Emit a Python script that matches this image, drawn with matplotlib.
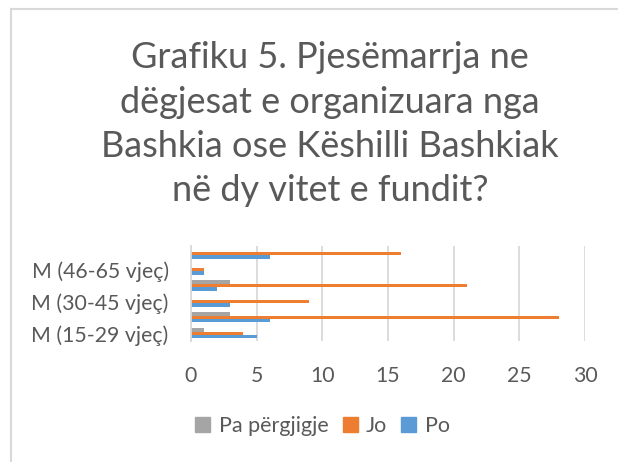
import numpy as np
import matplotlib.pyplot as plt
from matplotlib.lines import Line2D
from matplotlib.patches import Patch

# categories from bottom to top; only every other label fits on the axis
categories = ["M (15-29 vjeç)", "F (15-29 vjeç)", "M (30-45 vjeç)",
              "F (30-45 vjeç)", "M (46-65 vjeç)", "F (46-65 vjeç)"]
po = [5, 6, 3, 2, 1, 6]
jo = [4, 28, 9, 21, 1, 16]
pa_pergjigje = [1, 3, 0, 3, 0, 0]

title = ("Grafiku 5. Pjesëmarrja ne\n"
         "dëgjesat e organizuara nga\n"
         "Bashkia ose Këshilli Bashkiak\n"
         "në dy vitet e fundit?")

blue = "#5B9BD5"
orange = "#ED7D31"
gray = "#A5A5A5"
text_col = "#595959"
grid_col = "#D9D9D9"

plt.rcParams['font.family'] = ['Lato', 'DejaVu Sans']

fig = plt.figure(figsize=(6.18, 4.62), dpi=100)
ax = fig.add_axes([0.309, 0.2613, 0.6375, 0.2073])

y = np.arange(len(categories))
h = 0.215
ax.barh(y - h, po, height=h, color=blue, label="Po")
ax.barh(y, jo, height=h, color=orange, label="Jo")
ax.barh(y + h, pa_pergjigje, height=h, color=gray, label="Pa përgjigje")

ax.set_xlim(0, 30)
ax.set_ylim(-0.5, len(categories) - 0.5)
ax.set_xticks(range(0, 31, 5))
ax.set_yticks(y[::2])
ax.set_yticklabels(categories[::2])
ax.tick_params(axis='both', length=0, labelsize=15.3, colors=text_col)
ax.tick_params(axis='x', pad=18)
ax.tick_params(axis='y', pad=16)
ax.grid(axis='x', color=grid_col, linewidth=1.3)
ax.set_axisbelow(True)
for s in ['top', 'right', 'bottom']:
    ax.spines[s].set_visible(False)
ax.spines['left'].set_color(grid_col)
ax.spines['left'].set_linewidth(1.3)

fig.text(0.534, 0.731, title, ha='center', va='center', fontsize=26,
         color=text_col, linespacing=1.42)

handles = [Patch(color=gray), Patch(color=orange), Patch(color=blue)]
fig.legend(handles, ["Pa përgjigje", "Jo", "Po"], loc='center',
           bbox_to_anchor=(0.522, 0.078), ncol=3, frameon=False,
           fontsize=15.5, handlelength=0.7, handleheight=0.7,
           handletextpad=0.4, columnspacing=0.65, labelcolor=text_col)

# chart border (only left and top edges are inside the picture)
fig.add_artist(Line2D([10.5 / 618, 10.5 / 618], [0, 1 - 8.5 / 462],
                      color=grid_col, linewidth=1.5))
fig.add_artist(Line2D([10.5 / 618, 1], [1 - 8.5 / 462, 1 - 8.5 / 462],
                      color=grid_col, linewidth=1.5))

fig.savefig("out.png", dpi=100)
